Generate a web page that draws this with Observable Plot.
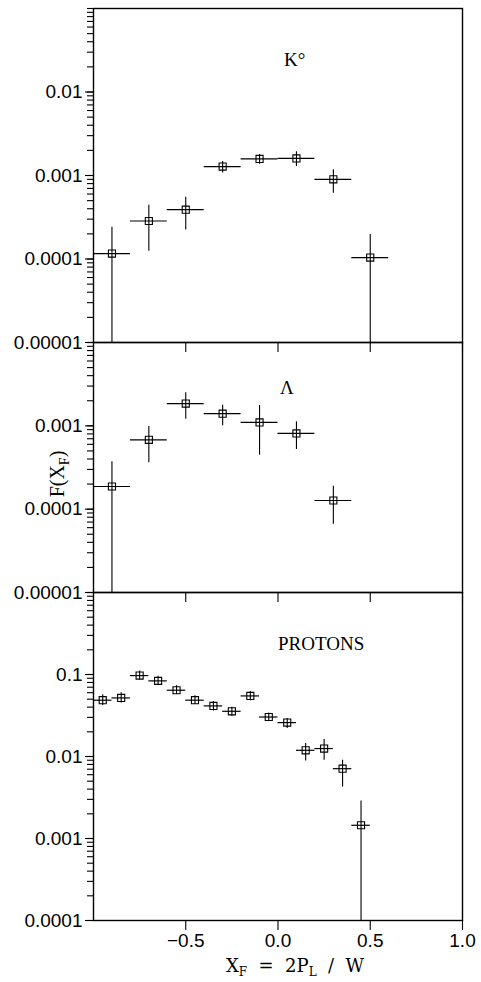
<!DOCTYPE html>
<html><head><meta charset="utf-8">
<script src="https://cdn.jsdelivr.net/npm/d3@7"></script>
<script src="https://cdn.jsdelivr.net/npm/@observablehq/plot@0.6"></script>
<style>
html,body{margin:0;padding:0;background:#fff;}
#chart{width:481px;height:982px;}
#chart svg{display:block;overflow:visible;}
</style></head><body><div id="chart"></div>
<script>
// ---- K0 panel ----
const k0X    = [-0.9, -0.7, -0.5, -0.3, -0.1, 0.1, 0.3, 0.5];
const k0XErr = [0.1, 0.1, 0.1, 0.1, 0.1, 0.1, 0.1, 0.1];
const k0Y    = [1.16e-4, 2.85e-4, 3.9e-4, 1.28e-3, 1.58e-3, 1.6e-3, 9.0e-4, 1.04e-4];
const k0Hi   = [2.4e-4, 4.4e-4, 5.5e-4, 1.47e-3, 1.79e-3, 1.93e-3, 1.17e-3, 1.97e-4];
const k0Lo   = [1e-6, 1.24e-4, 2.23e-4, 1.07e-3, 1.36e-3, 1.28e-3, 6.15e-4, 1e-6];
const k0Ticks = [1e-5, 1e-4, 1e-3, 1e-2];
const k0TickLabels = ["0.00001", "0.0001", "0.001", "0.01"];

// ---- Lambda panel ----
const lamX    = [-0.9, -0.7, -0.5, -0.3, -0.1, 0.1, 0.3];
const lamXErr = [0.1, 0.1, 0.1, 0.1, 0.1, 0.1, 0.1];
const lamY    = [1.87e-4, 6.8e-4, 1.85e-3, 1.4e-3, 1.1e-3, 8.1e-4, 1.27e-4];
const lamHi   = [3.7e-4, 9.8e-4, 2.5e-3, 1.76e-3, 1.75e-3, 1.12e-3, 1.89e-4];
const lamLo   = [1e-6, 3.6e-4, 1.2e-3, 1.0e-3, 4.45e-4, 5.2e-4, 6.6e-5];
const lamTicks = [1e-5, 1e-4, 1e-3];
const lamTickLabels = ["0.00001", "0.0001", "0.001"];

// ---- Protons panel ----
const pX    = [-0.95, -0.85, -0.75, -0.65, -0.55, -0.45, -0.35, -0.25, -0.15, -0.05, 0.05, 0.15, 0.25, 0.35, 0.45];
const pXErr = [0.05, 0.05, 0.05, 0.05, 0.05, 0.05, 0.05, 0.05, 0.05, 0.05, 0.05, 0.05, 0.05, 0.05, 0.05];
const pY    = [0.0486, 0.0518, 0.097, 0.0836, 0.0643, 0.0486, 0.0414, 0.0356, 0.0548, 0.0303, 0.0259, 0.0119, 0.0125, 0.0071, 0.00145];
const pHi   = [0.0565, 0.060, 0.110, 0.095, 0.073, 0.055, 0.047, 0.040, 0.062, 0.034, 0.029, 0.0144, 0.0161, 0.009, 0.00286];
const pLo   = [0.042, 0.045, 0.086, 0.074, 0.057, 0.043, 0.036, 0.031, 0.048, 0.027, 0.022, 0.0088, 0.0090, 0.00425, 1e-5];
const pTicks = [1e-4, 1e-3, 1e-2, 1e-1];
const pTickLabels = ["0.0001", "0.001", "0.01", "0.1"];

// ---- x axis ----
const xTicks = [-0.5, 0, 0.5, 1.0];
const xTickLabels = ["−0.5", "0.0", "0.5", "1.0"];

const SANS = "Liberation Sans, Arial, sans-serif";
const SERIF = "Liberation Serif, Times New Roman, serif";

function panel(o) {
  const data = o.xs.map((x, i) => ({x, y: o.ys[i], lo: o.lo[i], hi: o.hi[i], x1: x - o.xerr[i], x2: x + o.xerr[i]}));
  const marks = [
    Plot.ruleY(data, {y: "y", x1: "x1", x2: "x2", stroke: "black", strokeWidth: 1.2, clip: true}),
    Plot.ruleX(data, {x: "x", y1: "lo", y2: "hi", stroke: "black", strokeWidth: 1.1, clip: true}),
    Plot.dot(data, {x: "x", y: "y", symbol: "square", r: 4, stroke: "black", fill: "none", strokeWidth: 1.1}),
    Plot.frame({stroke: "black", strokeWidth: 1.4}),
    Plot.axisY({ticks: 40, tickSize: 6, tickFormat: () => "", label: null, strokeWidth: 1.1}),
    Plot.axisY(o.ticks, {tickSize: 8, tickPadding: 3, label: null, strokeWidth: 1.1,
      tickFormat: d => o.labels[o.ticks.indexOf(d)], fontSize: 19, fontFamily: SANS, fill: "black"}),
    Plot.axisX(xTicks, {tickSize: 10, label: null, strokeWidth: 1.1,
      tickFormat: o.xLabels ? (d => xTickLabels[xTicks.indexOf(d)]) : (() => ""),
      tickPadding: 3, fontSize: 19, fontFamily: SANS, fill: "black"}),
    Plot.text([o.name], {text: d => d, frameAnchor: "top", textAnchor: "start", lineAnchor: "middle",
      dx: o.nameDx, dy: o.nameDy, fontFamily: SERIF, fontSize: 19, fill: "black"})
  ];
  return Plot.plot({
    width: 481, height: o.height,
    marginLeft: 93, marginRight: 19, marginTop: o.mt, marginBottom: o.mb,
    x: {domain: [-1, 1], label: null},
    y: {type: "log", domain: o.domain, label: null},
    style: {overflow: "visible", background: "transparent", color: "black", fontFamily: SANS},
    marks
  });
}

const root = document.getElementById("chart");

const p1 = panel({xs: k0X, ys: k0Y, lo: k0Lo, hi: k0Hi, xerr: k0XErr, domain: [1e-5, 1e-1],
  ticks: k0Ticks, labels: k0TickLabels, height: 342, mt: 8, mb: 0, name: "K°", nameDx: 6, nameDy: 51});
const p2 = panel({xs: lamX, ys: lamY, lo: lamLo, hi: lamHi, xerr: lamXErr, domain: [1e-5, 1e-2],
  ticks: lamTicks, labels: lamTickLabels, height: 250, mt: 0, mb: 0, name: "Λ", nameDx: 2, nameDy: 45});
const p3 = panel({xs: pX, ys: pY, lo: pLo, hi: pHi, xerr: pXErr, domain: [1e-4, 1],
  ticks: pTicks, labels: pTickLabels, height: 390, mt: 0, mb: 62, name: "PROTONS", nameDx: 0, nameDy: 51, xLabels: true});
root.append(p1, p2, p3);

// y-axis title on middle panel
const yt = d3.select(p2).append("text")
  .attr("transform", "translate(64,132) rotate(-90)")
  .attr("text-anchor", "middle")
  .attr("font-family", SERIF).attr("font-size", 20).attr("fill", "black");
yt.append("tspan").text("F(X");
yt.append("tspan").attr("font-size", 14).attr("dy", 5).text("F");
yt.append("tspan").attr("dy", -5).text(")");

// x-axis title on bottom panel
const xt = d3.select(p3).append("text")
  .attr("x", 295).attr("y", 380)
  .attr("text-anchor", "middle")
  .attr("font-family", "DejaVu Serif, serif").attr("font-size", 18).attr("fill", "black")
  .style("white-space", "pre");
xt.append("tspan").text("X");
xt.append("tspan").attr("font-size", 12).attr("dy", 4).text("F");
xt.append("tspan").attr("dy", -4).text("  =  2P");
xt.append("tspan").attr("font-size", 12).attr("dy", 4).text("L");
xt.append("tspan").attr("dy", -4).text("  /  W");
</script></body></html>
